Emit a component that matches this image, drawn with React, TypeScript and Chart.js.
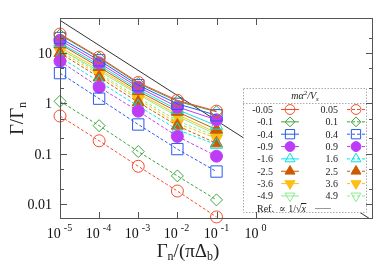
import React, { useEffect, useRef } from 'react';
import { Chart, registerables } from 'chart.js';

Chart.register(...registerables);

// ---------- data ----------
const xValues = [1e-5, 1e-4, 1e-3, 1e-2, 1e-1];

const negLabels = ['-0.05', '-0.1', '-0.4', '-0.9', '-1.6', '-2.5', '-3.6', '-4.9'];
const posLabels = ['0.05', '0.1', '0.4', '0.9', '1.6', '2.5', '3.6', '4.9'];

const negM005 = [24, 8.3, 2.6, 1.15, 0.7];
const negM01 = [23, 8.0, 2.5, 1.1, 0.68];
const negM04 = [20, 7.2, 2.3, 0.98, 0.58];
const negM09 = [18, 6.4, 2.1, 0.85, 0.47];
const negM16 = [16, 5.8, 1.9, 0.75, 0.36];
const negM25 = [15, 5.3, 1.75, 0.68, 0.3];
const negM36 = [13, 4.8, 1.6, 0.6, 0.26];
const negM49 = [12, 4.4, 1.5, 0.55, 0.24];

const posP005 = [0.56, 0.18, 0.056, 0.018, 0.0055];
const posP01 = [1.1, 0.36, 0.11, 0.036, 0.012];
const posP04 = [4.0, 1.24, 0.38, 0.123, 0.044];
const posP09 = [6.9, 2.1, 0.7, 0.22, 0.089];
const posP16 = [8.3, 2.7, 0.88, 0.3, 0.15];
const posP25 = [10, 3.3, 1.05, 0.36, 0.16];
const posP36 = [11, 3.7, 1.2, 0.4, 0.2];
const posP49 = [12, 4.0, 1.3, 0.45, 0.22];

const refX = [1e-5, 1e3];
const refY = [45, 0.0046];

const xTickExponents = [-5, -4, -3, -2, -1, 0];
const yTickValues = [0.01, 0.1, 1, 10];
const yTickLabels = ['0.01', '0.1', '1', '10'];
const yMinorValues = [0.02, 0.05, 0.2, 0.5, 2, 5, 20];

const negSeries = [negM005, negM01, negM04, negM09, negM16, negM25, negM36, negM49];
const posSeries = [posP005, posP01, posP04, posP09, posP16, posP25, posP36, posP49];

// ---------- styles ----------
const colors = [
  'rgb(245,75,45)',
  'rgb(60,165,60)',
  'rgb(40,90,240)',
  'rgb(190,60,245)',
  'rgb(0,230,230)',
  'rgb(205,90,0)',
  'rgb(255,190,20)',
  'rgb(140,235,140)',
];
const markers = [
  { style: 'circle', fill: false, r: 6, rot: 0 },
  { style: 'rectRot', fill: false, r: 6, rot: 0 },
  { style: 'rect', fill: false, r: 8, rot: 0 },
  { style: 'circle', fill: true, r: 6, rot: 0 },
  { style: 'triangle', fill: false, r: 7, rot: 0 },
  { style: 'triangle', fill: true, r: 7, rot: 0 },
  { style: 'triangle', fill: true, r: 7, rot: 180 },
  { style: 'triangle', fill: false, r: 7, rot: 180 },
];

const SERIF = '"Liberation Serif", "DejaVu Serif", serif';

type Seg = { t: string; f: string; dy?: number };
function drawSegs(ctx: CanvasRenderingContext2D, segs: Seg[], x: number, y: number, align: string) {
  let w = 0;
  for (const s of segs) { ctx.font = s.f; w += ctx.measureText(s.t).width; }
  let cx = align === 'left' ? x : align === 'center' ? x - w / 2 : x - w;
  ctx.textAlign = 'left';
  ctx.textBaseline = 'alphabetic';
  for (const s of segs) {
    ctx.font = s.f;
    ctx.fillText(s.t, cx, y + (s.dy || 0));
    cx += ctx.measureText(s.t).width;
  }
  return w;
}

function drawMarker(ctx: CanvasRenderingContext2D, m: any, x: number, y: number, r: number, color: string) {
  ctx.beginPath();
  if (m.style === 'circle') {
    ctx.arc(x, y, r, 0, Math.PI * 2);
  } else if (m.style === 'rectRot') {
    ctx.moveTo(x, y - r); ctx.lineTo(x + r, y); ctx.lineTo(x, y + r); ctx.lineTo(x - r, y); ctx.closePath();
  } else if (m.style === 'rect') {
    const s = r * Math.SQRT1_2;
    ctx.rect(x - s, y - s, 2 * s, 2 * s);
  } else {
    let a = (m.rot * Math.PI) / 180;
    ctx.moveTo(x + Math.sin(a) * r, y - Math.cos(a) * r);
    a += (2 * Math.PI) / 3;
    ctx.lineTo(x + Math.sin(a) * r, y - Math.cos(a) * r);
    a += (2 * Math.PI) / 3;
    ctx.lineTo(x + Math.sin(a) * r, y - Math.cos(a) * r);
    ctx.closePath();
  }
  if (m.fill) { ctx.fillStyle = color; ctx.fill(); }
  ctx.strokeStyle = color;
  ctx.lineWidth = 1;
  ctx.setLineDash([]);
  ctx.stroke();
}

const overlay = {
  id: 'overlay',
  afterDraw(chart: any) {
    const ctx: CanvasRenderingContext2D = chart.ctx;
    const a = chart.chartArea;
    const xs = chart.scales.x;
    const ys = chart.scales.y;
    ctx.save();

    // ----- legend box -----
    const bx0 = 243, bx1 = 367, by0 = 88, by1 = 213;
    ctx.fillStyle = '#fff';
    ctx.fillRect(bx0, by0, bx1 - bx0, by1 - by0);
    ctx.strokeStyle = '#aaa';
    ctx.lineWidth = 1;
    ctx.setLineDash([1.5, 1.5]);
    ctx.strokeRect(bx0 + 0.5, by0 + 0.5, bx1 - bx0 - 1, by1 - by0 - 1);
    ctx.beginPath();
    ctx.moveTo(bx0, 103.5); ctx.lineTo(bx1, 103.5);
    ctx.stroke();
    ctx.setLineDash([]);

    ctx.fillStyle = '#222';
    const it = `italic 10px ${SERIF}`;
    const rm = `10px ${SERIF}`;
    const sm = `7px ${SERIF}`;
    drawSegs(ctx, [
      { t: 'mα', f: it },
      { t: '2', f: sm, dy: -4 },
      { t: '/V', f: it },
      { t: 's', f: `italic 7px ${SERIF}`, dy: 2 },
    ], 305, 99, 'center');

    for (let i = 0; i < negLabels.length; i++) {
      const y = 109.5 + i * 12.35;
      ctx.fillStyle = '#222';
      drawSegs(ctx, [{ t: negLabels[i], f: rm }], 273, y + 3.5, 'right');
      drawSegs(ctx, [{ t: posLabels[i], f: rm }], 338, y + 3.5, 'right');
      ctx.strokeStyle = colors[i];
      ctx.lineWidth = 1;
      ctx.setLineDash([]);
      ctx.beginPath(); ctx.moveTo(281, y); ctx.lineTo(299, y); ctx.stroke();
      ctx.setLineDash([3, 2]);
      ctx.beginPath(); ctx.moveTo(347, y); ctx.lineTo(365, y); ctx.stroke();
      ctx.setLineDash([]);
      const m = markers[i];
      const rr = m.r * 0.82;
      drawMarker(ctx, m, 290, y, rr, colors[i]);
      drawMarker(ctx, m, 356, y, rr, colors[i]);
    }
    // ref row
    ctx.fillStyle = '#222';
    const wRef = drawSegs(ctx, [{ t: 'Ref.', f: rm }, { t: '  ∝ 1/√', f: rm }], 257, 211.5, 'left');
    ctx.font = `italic 10px ${SERIF}`;
    const xw = ctx.measureText('x').width;
    ctx.fillText('x', 257 + wRef, 211.5);
    ctx.strokeStyle = '#222';
    ctx.beginPath(); ctx.moveTo(257 + wRef - 0.5, 203.5); ctx.lineTo(257 + wRef + xw + 0.5, 203.5); ctx.stroke();
    ctx.strokeStyle = '#999';
    ctx.beginPath(); ctx.moveTo(315, 208.5); ctx.lineTo(331, 208.5); ctx.stroke();

    // ----- frame -----
    ctx.strokeStyle = '#555';
    ctx.lineWidth = 1;
    ctx.strokeRect(a.left + 0.5, a.top + 0.5, a.right - a.left - 1, a.bottom - a.top - 1);

    // x ticks + labels
    ctx.fillStyle = '#111';
    for (const e of xTickExponents) {
      const px = Math.round(xs.getPixelForValue(Math.pow(10, e))) + 0.5;
      ctx.beginPath();
      ctx.moveTo(px, a.bottom); ctx.lineTo(px, a.bottom - 7);
      ctx.moveTo(px, a.top); ctx.lineTo(px, a.top + 7);
      ctx.stroke();
      ctx.font = `14px ${SERIF}`;
      const w1 = ctx.measureText('10').width;
      ctx.font = `10px ${SERIF}`;
      const w2 = ctx.measureText(String(e)).width;
      const tot = w1 + 3 + w2;
      const left = px - tot / 2 - 1;
      ctx.textAlign = 'left';
      ctx.textBaseline = 'alphabetic';
      ctx.font = `14px ${SERIF}`;
      ctx.fillText('10', left, 238);
      ctx.font = `10px ${SERIF}`;
      ctx.fillText(String(e), left + w1 + 3, 231);
    }

    // y ticks + labels
    for (let i = 0; i < yTickValues.length; i++) {
      const py = Math.round(ys.getPixelForValue(yTickValues[i])) + 0.5;
      ctx.beginPath();
      ctx.moveTo(a.left, py); ctx.lineTo(a.left + 7, py);
      ctx.moveTo(a.right, py); ctx.lineTo(a.right - 7, py);
      ctx.stroke();
      ctx.font = `14px ${SERIF}`;
      ctx.textAlign = 'right';
      ctx.textBaseline = 'middle';
      ctx.fillText(yTickLabels[i], 52, py + 0.5);
    }
    for (const v of yMinorValues) {
      const py = Math.round(ys.getPixelForValue(v)) + 0.5;
      ctx.beginPath();
      ctx.moveTo(a.left, py); ctx.lineTo(a.left + 4, py);
      ctx.moveTo(a.right, py); ctx.lineTo(a.right - 4, py);
      ctx.stroke();
    }

    // axis titles
    ctx.fillStyle = '#222';
    const big = `19px ${SERIF}`;
    const sub = `12px ${SERIF}`;
    drawSegs(ctx, [
      { t: 'Γ', f: big },
      { t: 'n', f: sub, dy: 3 },
      { t: '/(π', f: big },
      { t: 'Δ', f: big },
      { t: 'b', f: sub, dy: 3 },
      { t: ')', f: big },
    ], 188, 257, 'center');

    ctx.save();
    ctx.translate(23, (a.top + a.bottom) / 2);
    ctx.rotate(-Math.PI / 2);
    drawSegs(ctx, [
      { t: 'Γ', f: big },
      { t: '/', f: big },
      { t: 'Γ', f: big },
      { t: 'n', f: sub, dy: 3 },
    ], 0, 0, 'center');
    ctx.restore();

    ctx.restore();
  },
};

export default function App() {
  const ref = useRef<HTMLCanvasElement | null>(null);
  useEffect(() => {
    if (!ref.current) return;
    const datasets: any[] = [];
    for (let i = 0; i < negSeries.length; i++) {
      const m = markers[i];
      const base = {
        borderColor: colors[i],
        borderWidth: 1,
        pointStyle: m.style,
        pointRadius: m.r,
        pointRotation: m.rot,
        pointBorderColor: colors[i],
        pointBackgroundColor: m.fill ? colors[i] : 'rgba(0,0,0,0)',
        pointBorderWidth: 1,
        fill: false,
        tension: 0,
        clip: false,
      };
      datasets.push({
        ...base,
        label: negLabels[i],
        data: xValues.map((x, j) => ({ x, y: negSeries[i][j] })),
      });
      datasets.push({
        ...base,
        label: posLabels[i],
        borderDash: [3, 2],
        data: xValues.map((x, j) => ({ x, y: posSeries[i][j] })),
      });
    }
    datasets.push({
      label: 'Ref.',
      data: refX.map((x, j) => ({ x, y: refY[j] })),
      borderColor: '#333',
      borderWidth: 1,
      pointRadius: 0,
      fill: false,
    });

    const chart = new Chart(ref.current, {
      type: 'line',
      data: { datasets },
      options: {
        animation: false,
        responsive: false,
        devicePixelRatio: 1,
        layout: { padding: { left: 60, right: 7, top: 18, bottom: 54 } },
        scales: {
          x: { type: 'logarithmic', min: 1e-5, max: 1e3, display: false },
          y: { type: 'logarithmic', min: 0.005, max: 50, display: false },
        },
        plugins: { legend: { display: false }, tooltip: { enabled: false } },
      },
      plugins: [overlay],
    } as any);
    return () => chart.destroy();
  }, []);

  return (
    <div style={{ position: 'fixed', left: 0, top: 0, width: 382, height: 273, background: '#fff' }}>
      <canvas ref={ref} width={382} height={273} />
    </div>
  );
}
